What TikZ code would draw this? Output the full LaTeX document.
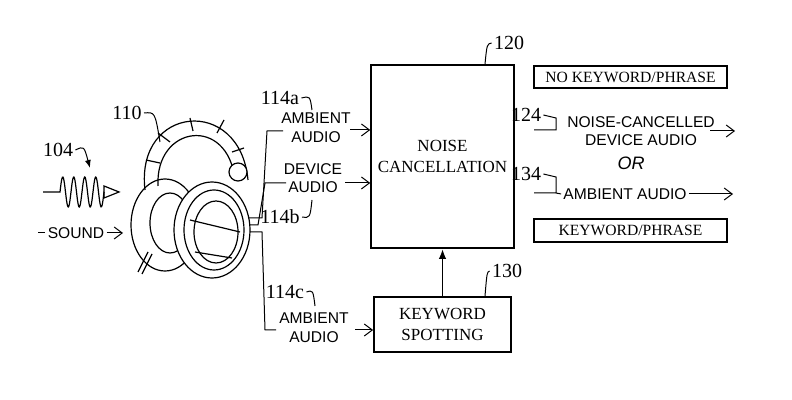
\documentclass[tikz,border=0pt]{standalone}
\usepackage{fontspec}
\setmainfont{Liberation Serif}
\newfontfamily\lblfont{Liberation Sans}
\usetikzlibrary{arrows.meta}
\tikzset{
    box/.style={draw, line width=0.9pt, font=\rmfamily\fontsize{8.5}{10.5}\selectfont, align=center},
    tag/.style={font=\lblfont\fontsize{7.8}{9.3}\selectfont, align=center, inner sep=1pt},
    num/.style={font=\rmfamily\fontsize{10}{11}\selectfont, inner sep=1pt},
    sig/.style={-{Straight Barb[length=4pt,width=6pt]}, line width=0.5pt},
    lead/.style={line width=0.5pt},
}
\begin{document}
\begin{tikzpicture}[x=0.5pt, y=-0.5pt]
    \useasboundingbox (0,0) rectangle (792,400);

% Blocks
    \node[box, minimum width=68.5pt, minimum height=91.5pt] (nc) at (442.5,156.5) {NOISE\\CANCELLATION};
    \node[box, minimum width=68.5pt, minimum height=27.5pt] (ks) at (442.5,324.5) {KEYWORD\\SPOTTING};
    \node[box, font=\rmfamily\fontsize{7.8}{9}\selectfont, minimum width=96.5pt, minimum height=11pt, inner sep=1pt] (nokw) at (630.5,77) {NO KEYWORD/PHRASE};
    \node[box, font=\rmfamily\fontsize{7.8}{9}\selectfont, minimum width=96.5pt, minimum height=11.5pt, inner sep=1pt] (kw) at (630.5,230.5) {KEYWORD/PHRASE};
    \draw[-{Latex[length=5pt]}, line width=0.9pt] (ks.north) -- (nc.south);

    % Reference numerals
    \node[num] (n120) at (509,43) {120};
    \draw[lead] (n120.west) .. controls (487,44) .. (485,64);
    \node[num] (n130) at (507,271) {130};
    \draw[lead] (n130.west) .. controls (487,272) .. (485,296);

% Inputs of the blocks
    \node[tag] (amb1) at (316,128) {AMBIENT\\AUDIO};
    \node[tag] (dev) at (313,178) {DEVICE\\AUDIO};
    \node[tag] (amb2) at (314,328) {AMBIENT\\AUDIO};
    \coordinate (a1) at (350,130);
    \coordinate (d1) at (345,183);
    \coordinate (a2) at (355,330);
    \draw[sig] (a1) -- (a1 -| nc.west);
    \draw[sig] (d1) -- (d1 -| nc.west);
    \draw[sig] (a2) -- (a2 -| ks.west);

    \node[num] (n114a) at (280,98) {114a};
    \draw[lead] (n114a.east) .. controls (310,96) .. (312,110);
    \node[num] (n114b) at (280,217) {114b};
    \draw[lead] (n114b.east) .. controls (310,218) .. (312,200);
    \node[num] (n114c) at (285,292) {114c};
    \draw[lead] (n114c.east) .. controls (313,290) .. (315,306);

    % Leads out of the headphones
    \coordinate (h1) at (240,218);
    \coordinate (h2) at (240,225);
    \coordinate (h3) at (240,232);
    \draw[lead] (h1) -- (262,218) -- (267,131) -- (283,131);
    \draw[lead] (h2) -- (258,225) -- (265,183) -- (286,183);
    \draw[lead] (h3) -- (262,232) -- (265,330) -- (276,330);

% Outputs
    \node[tag] (ncout) at (641,131) {NOISE-CANCELLED\\DEVICE AUDIO};
    \node[tag, font=\lblfont\itshape\fontsize{9}{10}\selectfont] (or) at (631,163) {OR};
    \node[tag] (ambout) at (625,194) {AMBIENT AUDIO};
    \coordinate (end1) at (735,131);
    \coordinate (end2) at (733,194);
    \draw[sig] (710,131) -- (end1);
    \draw[sig] (ambout.east) -- (end2);
    \node[num] (n124) at (526,115) {124};
    \draw[lead] (n124.east) -- (556,118) -- (556,130) -- (534,130);
    \node[num] (n134) at (526,174) {134};
    \draw[lead] (n134.east) -- (556,177) -- (556,193) -- (534,193) (556,193) -- (ambout.west);

% Sound
    \draw[line width=0.6pt] (43,192) -- (60,192)
        -- plot[domain=0:1440, samples=90, smooth] ({60+\x/1440*44}, {192-15*sin(\x)})
        -- (104,192);
    \draw[line width=0.6pt] (104,186) -- (119,192) -- (104,198) -- cycle;
    \node[num] (n104) at (58,150) {104};
    \draw[-{Latex[length=4pt]}, lead] (n104.east) .. controls (84,146) .. (90,168);
    \node[tag] (snd) at (76,233) {SOUND};
    \coordinate (sndstart) at (38,233);
    \coordinate (sndend) at (123,233);
    \draw[lead] (sndstart) -- (snd.west);
    \draw[sig] (snd.east) -- (sndend);

% Headphones
    \node[num] (n110) at (127,113) {110};
    \draw[lead] (n110.east) .. controls (155,112) .. (160,142);
    \begin{scope}[line width=0.6pt]
        % headband
        \draw (145,190) .. controls (135,105) and (240,95) .. (248,180);
        \draw (158,186) .. controls (155,125) and (228,115) .. (235,180);
        \draw (146,160) -- (160,163) (158,133) -- (170,142) (190,118) -- (193,131) (224,120) -- (217,133) (244,148) -- (232,152);
        % left ear cup
        \draw (165,225) ellipse (34 and 46);
        \draw (170,223) ellipse (20 and 30);
        % right ear cup
        \draw[fill=white] (212,230) ellipse (38 and 48);
        \draw (214,230) ellipse (30 and 40);
        \draw (216,232) ellipse (22 and 31);
        \draw (190,220) -- (240,232) (195,252) -- (232,258);
        \draw[fill=white] (238,172) circle (9);
        % mic
        \draw (148,252) -- (138,272) (152,254) -- (142,274);
    \end{scope}
\end{tikzpicture}
\end{document}
